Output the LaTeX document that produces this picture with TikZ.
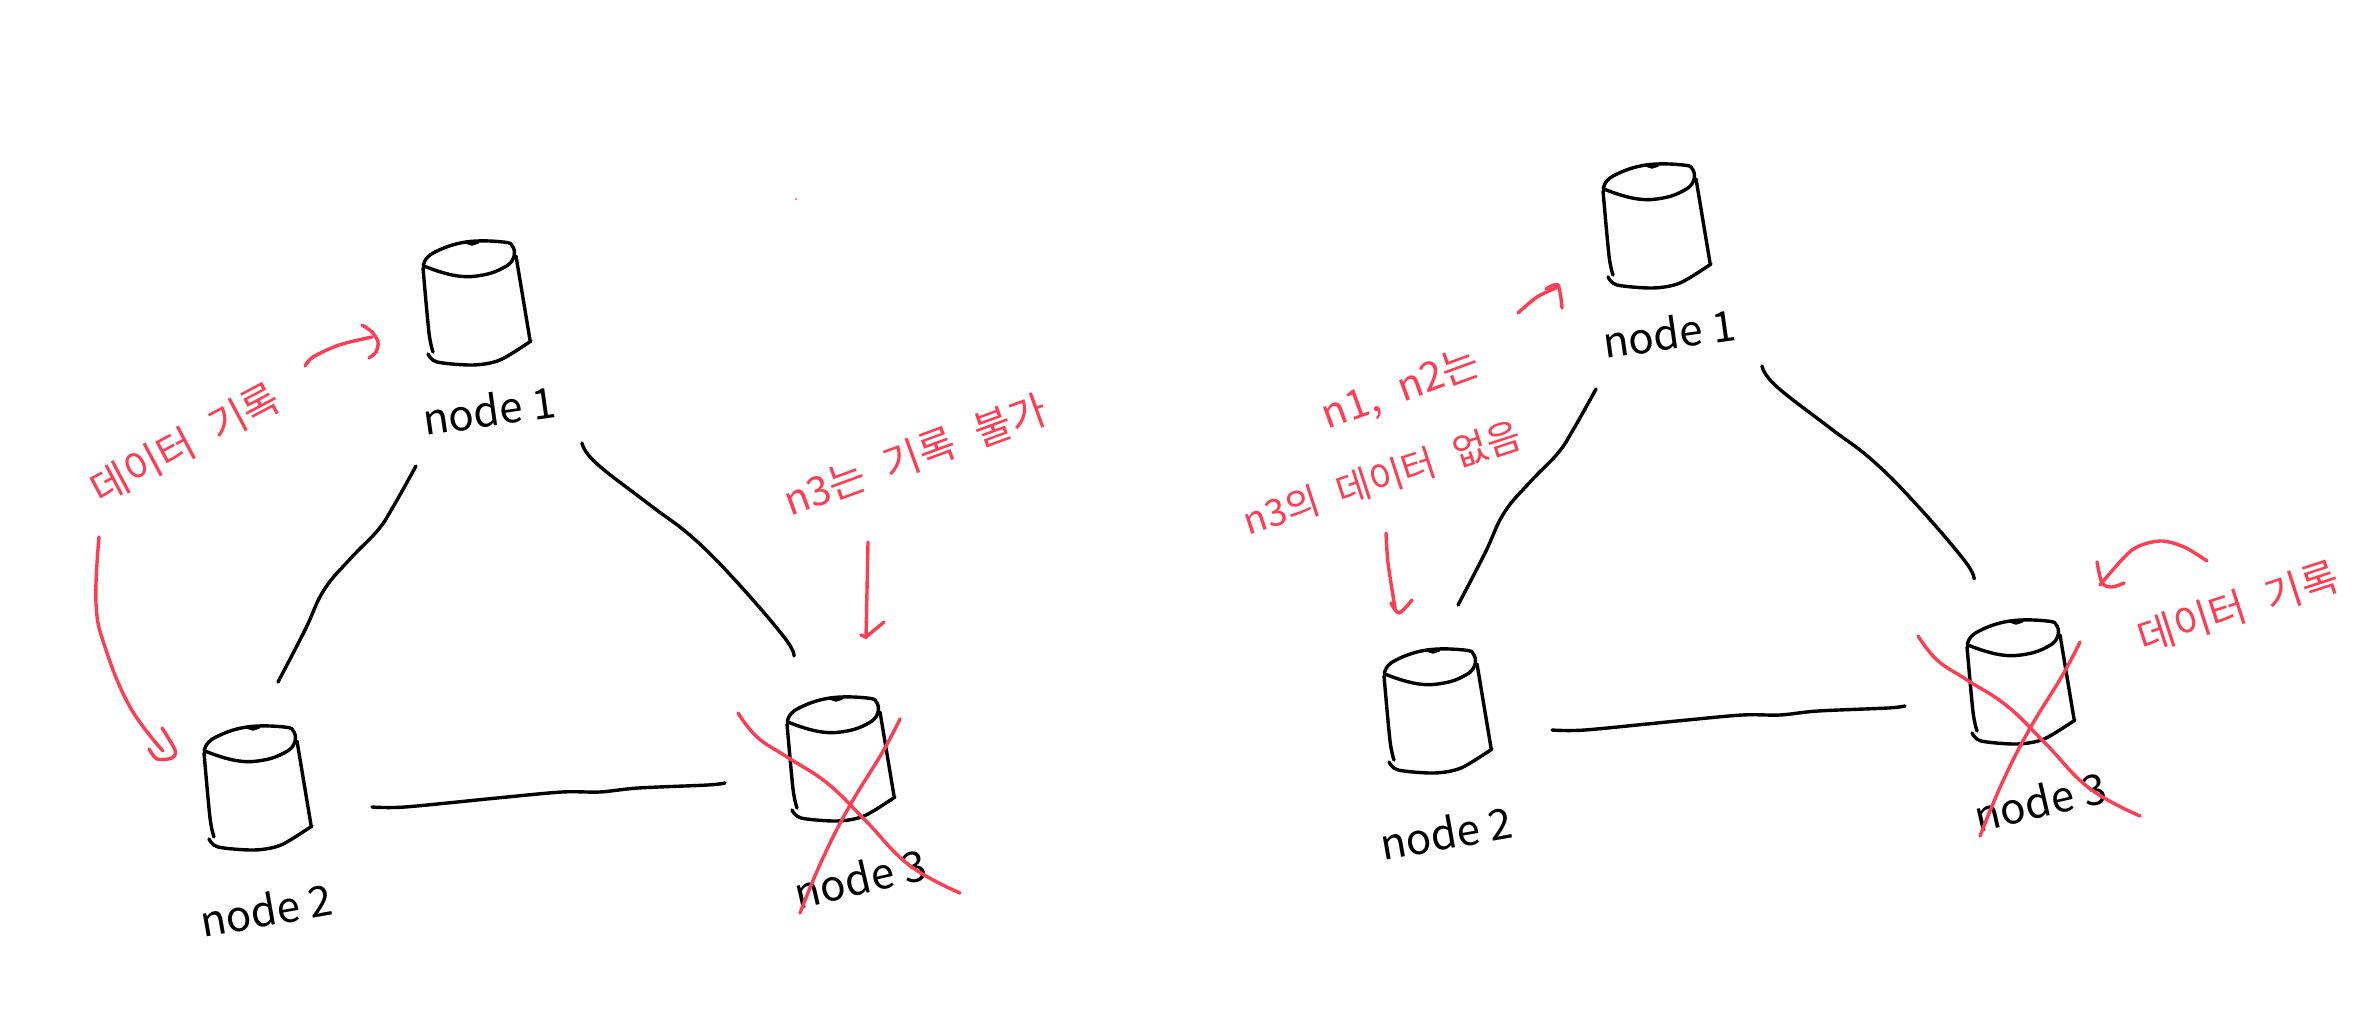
\documentclass[tikz,border=0pt]{standalone}
\usepackage{fontspec}
\setmainfont{Noto Sans CJK KR}
\newfontfamily\notefont[WordSpace=2.4]{Noto Sans CJK KR}
\definecolor{penred}{rgb}{1.0,0.24,0.32}
\usepackage{tikz}
\usetikzlibrary{positioning}

\tikzset{
  wire/.style={black, line width=0.034cm, line cap=round, line join=round},
  redline/.style={penred, line width=0.034cm, line cap=round, line join=round},
  hostname/.style={black, font=\fontsize{12pt}{14pt}\selectfont, inner sep=0pt},
  note/.style={penred, font=\notefont\fontsize{11.5pt}{13pt}\selectfont, inner sep=0pt},
  cyl/.pic={
    \draw[wire] plot[smooth cycle, tension=0.7] coordinates {(1,21) (12,10) (43,0) (80,0) (90,5) (90,17) (80,26) (60,33) (35,34) (6,26)};
    \draw[wire] (43,0) -- (49,2) -- (55,0);
    \draw[wire] plot[smooth] coordinates {(0,26) (6,91) (10,110)};
    \draw[wire] (93,14) -- (107,98);
    \draw[wire] plot[smooth] coordinates {(5,112) (14,120) (50,123) (77,118) (108,99)};
  },
  cluster/.pic={
    \pic (cylone) at (423,242) {cyl};
    \pic (cyltwo) at (204,727) {cyl};
    \pic (cylthree) at (787,698) {cyl};
    \node[hostname, rotate=8] (nameone) at (489,410) {node 1};
    \node[hostname, rotate=10] (nametwo) at (266,910) {node 2};
    \node[hostname, rotate=13] (namethree) at (860,878) {node 3};
    \coordinate (onewest) at (416,466);
    \coordinate (twonorth) at (278,682);
    \coordinate (oneeast) at (582,443);
    \coordinate (threenorth) at (794,656);
    \coordinate (twoeast) at (372,807);
    \coordinate (threewest) at (725,783);
    \draw[wire] plot[smooth, tension=0.7] coordinates {(onewest) (393,507) (378,530) (351,558) (324,590) (305,630) (twonorth)};
    \draw[wire] plot[smooth, tension=0.7] coordinates {(oneeast) (596,463) (650,505) (692,537) (735,580) (784,637) (threenorth)};
    \draw[wire] plot[smooth] coordinates {(twoeast) (405,807) (497,798) (562,792) (600,792) (638,788) (708,785) (threewest)};
    \draw[redline] plot[smooth, tension=0.7] coordinates {(738,713) (757,737) (787,757) (827,783) (865,820) (909,865) (960,893)};
    \draw[redline] plot[smooth, tension=0.7] coordinates {(900,719) (882,753) (849,807) (822,860) (800,913)};
  }
}

\begin{document}
\begin{tikzpicture}[x=0.01cm, y=-0.01cm]
  \useasboundingbox (0,0) rectangle (2380,1010);

  \pic (left) at (0,0) {cluster};
  \pic (right) at (1180,-77) {cluster};

  \node[note, rotate=28] (writeleft) at (185,443) {데이터 기록};
  \node[note, rotate=20] (refuse) at (915,455) {n3는 기록 불가};
  \node[note, rotate=20] (replicas) at (1401,390) {n1, n2는};
  \node[note, rotate=18, font=\notefont\fontsize{10.6pt}{13pt}\selectfont] (missing) at (1382,478) {n3의 데이터 없음};
  \node[note, rotate=18] (writeright) at (2238,607) {데이터 기록};

  \coordinate (a) at (305,366);
  \coordinate (b) at (372,337);
  \draw[redline] plot[smooth] coordinates {(a) (313,357) (339,345) (b)};
  \draw[redline] plot[smooth] coordinates {(362,325) (372,332) (378,342) (376,352) (369,358)};

  \coordinate (c) at (99,537);
  \coordinate (d) at (163,751);
  \draw[redline] plot[smooth, tension=0.7] coordinates {(c) (96,603) (105,647) (130,707) (d)};
  \draw[redline] plot[smooth] coordinates {(162,728) (175,750) (172,758) (157,759) (149,749)};

  \coordinate (e) at (868,542);
  \coordinate (f) at (866,638);
  \draw[redline] (e) -- (f);
  \draw[redline] (861,635) -- (866,637) -- (884,622);

  \coordinate (g) at (1518,313);
  \coordinate (h) at (1558,287);
  \draw[redline] plot[smooth] coordinates {(g) (1537,297) (h)};
  \draw[redline] plot[smooth] coordinates {(1546,289) (1558,285) (1562,308)};

  \coordinate (i) at (1386,533);
  \coordinate (j) at (1395,608);
  \draw[redline] plot[smooth] coordinates {(i) (1388,563) (j)};
  \draw[redline] plot[smooth] coordinates {(1391,603) (1399,613) (1412,600)};

  \coordinate (k) at (2207,561);
  \coordinate (l) at (2100,585);
  \draw[redline] plot[smooth] coordinates {(k) (2184,547) (2160,541) (2132,550) (l)};
  \draw[redline] plot[smooth] coordinates {(2097,562) (2102,583) (2112,587) (2124,583)};

  \fill[penred] (796,199) circle (1);
\end{tikzpicture}
\end{document}
